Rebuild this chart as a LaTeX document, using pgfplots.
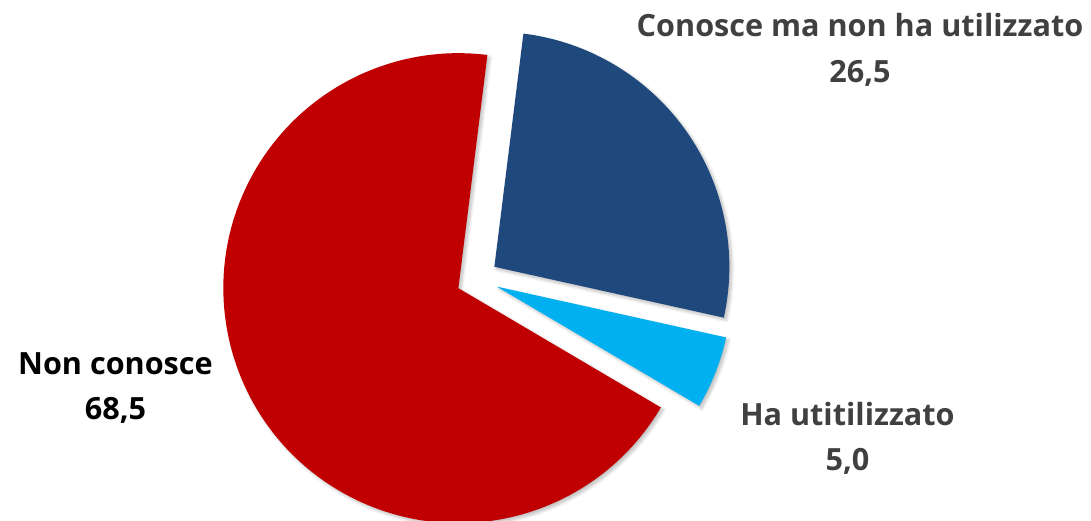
\documentclass[border=0pt]{standalone}
\usepackage{pgfplots}
\pgfplotsset{compat=1.18}
\usetikzlibrary{shadows.blur}
\usepackage{fontspec}
\setmainfont{Open Sans}
\definecolor{cRed}{HTML}{C00000}
\definecolor{cBlue}{HTML}{1F497D}
\definecolor{cLight}{HTML}{00B0F0}
\definecolor{cText}{HTML}{404040}
% data (percent)
\def\vBlue{26.5}
\def\vLight{5.0}
\def\vRed{68.5}
% geometry (pixels = pt)
\def\cx{477.2}\def\cy{242.1}\def\R{235}\def\ex{21}
\pgfmathsetmacro\sA{82.9}
\pgfmathsetmacro\eA{\sA-3.6*\vBlue}
\pgfmathsetmacro\eB{\eA-3.6*\vLight}
\pgfmathsetmacro\eC{\eB-3.6*\vRed}
\pgfmathsetmacro\mA{(\sA+\eA)/2}
\pgfmathsetmacro\mB{(\eA+\eB)/2}
\pgfmathsetmacro\mC{(\eB+\eC)/2}
\pgfmathsetmacro\axA{\cx+\ex*cos(\mA)}\pgfmathsetmacro\ayA{\cy+\ex*sin(\mA)}
\pgfmathsetmacro\axB{\cx+\ex*cos(\mB)}\pgfmathsetmacro\ayB{\cy+\ex*sin(\mB)}
\pgfmathsetmacro\axC{\cx+\ex*cos(\mC)}\pgfmathsetmacro\ayC{\cy+\ex*sin(\mC)}
\begin{document}
\begin{tikzpicture}
\useasboundingbox (0,0) rectangle (1091pt,521pt);
\begin{axis}[
  at={(0,0)}, anchor=south west,
  width=1091pt, height=521pt, scale only axis,
  xmin=0, xmax=1091, ymin=0, ymax=521,
  hide axis, clip=true,
]
\tikzset{sh/.style={blur shadow={shadow xshift=2.5pt, shadow yshift=-2.5pt, shadow blur steps=6, shadow opacity=25, shadow blur radius=3pt}}}
\fill[cRed, sh] (axis cs:\axC,\ayC) -- ++(\eB:\R pt) arc[start angle=\eB, end angle=\eC, radius=\R pt] -- cycle;
\fill[cBlue, sh] (axis cs:\axA,\ayA) -- ++(\sA:\R pt) arc[start angle=\sA, end angle=\eA, radius=\R pt] -- cycle;
\fill[cLight, sh] (axis cs:\axB,\ayB) -- ++(\eA:\R pt) arc[start angle=\eA, end angle=\eB, radius=\R pt] -- cycle;
\end{axis}
\begin{scope}[every node/.style={font=\fontsize{30.6}{36}\selectfont\bfseries, anchor=base, inner sep=0pt}]
\node[text=cText] at (860pt,{521pt-37pt}) {Conosce ma non ha utilizzato};
\node[text=cText] at (860pt,{521pt-83pt}) {26,5};
\node[text=black] at (115.5pt,{521pt-375pt}) {Non conosce};
\node[text=black] at (115.5pt,{521pt-420pt}) {68,5};
\node[text=cText] at (847.5pt,{521pt-426pt}) {Ha utitilizzato};
\node[text=cText] at (847.5pt,{521pt-471pt}) {5,0};
\end{scope}
\end{tikzpicture}
\end{document}
